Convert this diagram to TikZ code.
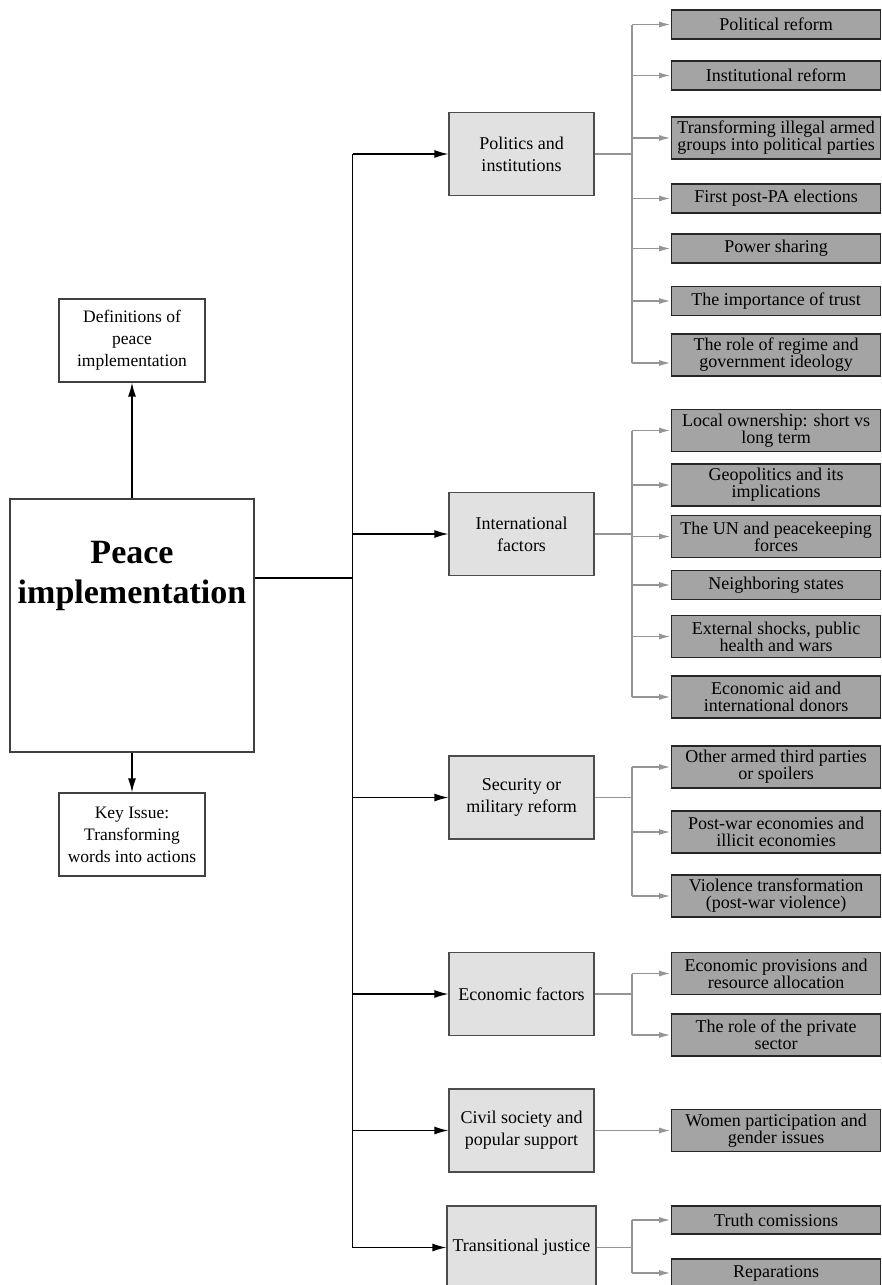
\documentclass[tikz,border=0pt]{standalone}
\usepackage{fontspec}
\setmainfont{Liberation Serif}
\usetikzlibrary{arrows.meta}
\definecolor{catfill}{HTML}{E0E1E0}
\definecolor{subfill}{HTML}{A4A4A4}
\definecolor{conngray}{HTML}{959595}
\begin{document}
\begin{tikzpicture}[x=1pt,y=-1pt,
  whitebox/.style={draw=black!75, fill=white, line width=1.2pt, minimum width=146pt, minimum height=83pt, inner sep=2pt, align=center, font=\fontsize{17.5}{22}\selectfont},
  catbox/.style={draw=black!70, fill=catfill, line width=1.2pt, minimum width=145pt, minimum height=83pt, inner sep=2pt, align=center, font=\fontsize{18}{22}\selectfont},
  subbox/.style={draw=black!85, fill=subfill, line width=1.2pt, minimum width=209pt, inner sep=0pt, align=center, anchor=west, font=\fontsize{18}{17}\selectfont},
  subone/.style={subbox, minimum height=29pt},
  subtwo/.style={subbox, minimum height=42pt},
  mainarrow/.style={draw=black, line width=1.3pt, -{Latex[length=14pt,width=8pt]}},
  mainline/.style={draw=black, line width=1.3pt},
  subarrow/.style={draw=conngray, line width=1.7pt, -{Latex[length=12pt,width=6pt]}},
  subline/.style={draw=conngray, line width=1.7pt}
]
\useasboundingbox (0,0) rectangle (881,1285);

% left column
\node[draw=black!75, line width=1.2pt, minimum width=244pt, minimum height=253pt, inner sep=0pt] (main) at (132,625.5) {};
\node[align=center, font=\fontsize{34}{40}\selectfont\bfseries] (maintext) at (132,576) {Peace\\implementation};
\node[whitebox] (def) at (132,340.5) {Definitions of\\peace\\implementation};
\node[whitebox] (key) at (132,834.5) {Key Issue:\\Transforming\\words into actions};
\draw[mainarrow] (main.north) -- (def.south);
\draw[mainarrow] (main.south) -- (key.north);

% categories
\node[catbox] (c1) at (521.5,154) {Politics and\\institutions};
\node[catbox] (c2) at (521.5,534) {International\\factors};
\node[catbox] (c3) at (521.5,797.5) {Security or\\military reform};
\node[catbox] (c4) at (521.5,994) {Economic factors};
\node[catbox] (c5) at (521.5,1130.5) {Civil society and\\popular support};
\node[catbox, minimum width=149pt] (c6) at (521.5,1247.5) {Transitional justice};

\coordinate (tr) at (352.5,578);
\draw[mainline] (main.east |- tr) -- (tr);
\draw[mainline] (tr |- c1.west) -- (tr |- c6.west);
\foreach \c in {c1,c2,c3,c4,c5,c6}{
  \draw[mainarrow] (tr |- \c.west) -- (\c.west);
}

% politics subs
\node[subone] (p1) at (671,24.5) {Political reform};
\node[subone] (p2) at (671,75.5) {Institutional reform};
\node[subtwo] (p3) at (671,138) {Transforming illegal armed\\groups into political parties};
\node[subone] (p4) at (671,198.5) {First post-PA elections};
\node[subone] (p5) at (671,248.5) {Power sharing};
\node[subone] (p6) at (671,301) {The importance of trust};
\node[subtwo] (p7) at (671,355) {The role of regime and\\government ideology};
\coordinate (j1) at (632,154);
\coordinate (p7a) at ([yshift=-8pt]p7.west);
\draw[subline] (c1.east) -- (j1);
\draw[subline] (j1 |- p1.west) -- (j1 |- p7a);
\foreach \s in {p1,p2,p3,p4,p5,p6}{
  \draw[subarrow] (j1 |- \s.west) -- (\s.west);
}
\draw[subarrow] (j1 |- p7a) -- (p7a);

% international subs
\node[subtwo] (i1) at (671,430.5) {Local ownership: short vs\\long term};
\node[subtwo] (i2) at (671,485) {Geopolitics and its\\implications};
\node[subtwo] (i3) at (671,536.5) {The UN and peacekeeping\\forces};
\node[subone] (i4) at (671,585) {Neighboring states};
\node[subtwo] (i5) at (671,636.5) {External shocks, public\\health and wars};
\node[subtwo] (i6) at (671,697) {Economic aid and\\international donors};
\coordinate (j2) at (632,534);
\draw[subline] (c2.east) -- (j2);
\draw[subline] (j2 |- i1.west) -- (j2 |- i6.west);
\foreach \s in {i1,i2,i3,i4,i5,i6}{
  \draw[subarrow] (j2 |- \s.west) -- (\s.west);
}

% security subs
\node[subtwo] (s1) at (671,767) {Other armed third parties\\or spoilers};
\node[subtwo] (s2) at (671,832) {Post-war economies and\\illicit economies};
\node[subtwo] (s3) at (671,896) {Violence transformation\\(post-war violence)};
\coordinate (j3) at (632,797.5);
\draw[subline] (c3.east) -- (j3);
\draw[subline] (j3 |- s1.west) -- (j3 |- s3.west);
\foreach \s in {s1,s2,s3}{
  \draw[subarrow] (j3 |- \s.west) -- (\s.west);
}

% economic subs
\node[subtwo] (e1) at (671,973.5) {Economic provisions and\\resource allocation};
\node[subtwo] (e2) at (671,1035) {The role of the private\\sector};
\coordinate (j4) at (632,994);
\draw[subline] (c4.east) -- (j4);
\draw[subline] (j4 |- e1.west) -- (j4 |- e2.west);
\foreach \s in {e1,e2}{
  \draw[subarrow] (j4 |- \s.west) -- (\s.west);
}

% civil society sub
\node[subtwo] (w1) at (671,1130.5) {Women participation and\\gender issues};
\draw[subarrow] (c5.east) -- (w1.west);

% transitional justice subs
\node[subbox, minimum height=28pt] (t1) at (671,1220) {Truth comissions};
\node[subbox, minimum height=28pt] (t2) at (671,1273) {Reparations};
\coordinate (j6) at (632,1247.5);
\draw[subline] (c6.east) -- (j6);
\draw[subline] (j6 |- t1.west) -- (j6 |- t2.west);
\foreach \s in {t1,t2}{
  \draw[subarrow] (j6 |- \s.west) -- (\s.west);
}
\end{tikzpicture}
\end{document}
